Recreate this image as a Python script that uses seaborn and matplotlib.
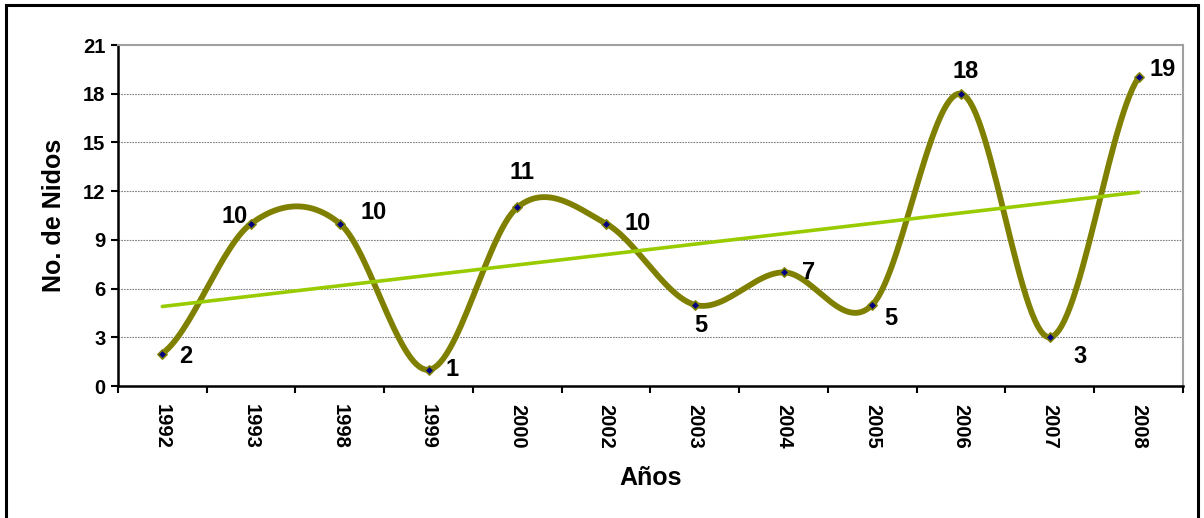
import numpy as np
import pandas as pd
import seaborn as sns
from matplotlib import pyplot as plt
from matplotlib.patches import Rectangle

years = ["1992", "1993", "1998", "1999", "2000", "2002",
         "2003", "2004", "2005", "2006", "2007", "2008"]
nests = [2, 10, 10, 1, 11, 10, 5, 7, 5, 18, 3, 19]

# label offsets (points) from each point, Excel-style placement
label_offsets = [(17, -2), (-12, 5), (24, 8), (17, 0), (3, 25), (23, 0),
                 (4, -15), (18, 0), (13, -10), (3, 16), (22, -14), (17, 6)]


def smooth(y, n=30):
    # Excel-like smoothing: Catmull-Rom / bezier through every point
    y = np.asarray(y, dtype=float)
    xs, ys = [], []
    for i in range(len(y) - 1):
        p0 = y[i - 1] if i > 0 else y[i]
        p3 = y[i + 2] if i + 2 < len(y) else y[i + 1]
        m0 = (y[i + 1] - p0) / 2
        m1 = (p3 - y[i]) / 2
        t = np.linspace(0, 1, n, endpoint=False)
        h00 = 2 * t**3 - 3 * t**2 + 1
        h10 = t**3 - 2 * t**2 + t
        h01 = -2 * t**3 + 3 * t**2
        h11 = t**3 - t**2
        xs.append(i + t)
        ys.append(h00 * y[i] + h10 * m0 + h01 * y[i + 1] + h11 * m1)
    xs.append([len(y) - 1])
    ys.append([y[-1]])
    return np.concatenate(xs), np.concatenate(ys)


sns.set_style("white")
plt.rcParams['font.family'] = ['Liberation Sans', 'DejaVu Sans']
plt.rcParams['font.weight'] = 'bold'
plt.rcParams['text.color'] = 'black'
plt.rcParams['axes.labelcolor'] = 'black'
plt.rcParams['xtick.color'] = 'black'
plt.rcParams['ytick.color'] = 'black'

df = pd.DataFrame({"idx": np.arange(len(years)), "nests": nests})
sx, sy = smooth(nests)
curve = pd.DataFrame({"x": sx, "y": sy})

fig = plt.figure(figsize=(12.04, 5.18), dpi=100)
ax = fig.add_axes([0.098, 0.2548, 0.8845, 0.6583])

for yv in range(3, 21, 3):
    ax.axhline(yv, color="#808080", lw=0.8, ls=(0, (1.5, 1)), zorder=0)

sns.lineplot(data=curve, x="x", y="y", color="#808000", lw=4.2, ax=ax,
             zorder=3, sort=False)
sns.regplot(data=df, x="idx", y="nests", scatter=False, ci=None, ax=ax,
            line_kws=dict(color="#99CC00", lw=2.6, zorder=4))
sns.scatterplot(data=df, x="idx", y="nests", marker="D", s=22,
                color="#000080", edgecolor="#808000", linewidth=1.2,
                ax=ax, zorder=5)

for i, v in enumerate(nests):
    ax.annotate(str(v), (i, v), xytext=label_offsets[i],
                textcoords="offset points", ha="center", va="center",
                fontsize=17, fontweight="bold", color="black")

ax.set_xlim(-0.5, len(years) - 0.5)
ax.set_ylim(0, 21)
ax.set_yticks(range(0, 22, 3))
ax.set_xticks(np.arange(len(years) + 1) - 0.5)
ax.set_xticklabels([])
ax.set_xticks(np.arange(len(years)), minor=True)
ax.set_xticklabels(years, minor=True, rotation=-90, fontsize=14.5,
                   fontweight="bold")
ax.tick_params(axis="x", which="major", length=5, width=1.5, color="black",
               direction="out", bottom=True)
ax.tick_params(axis="x", which="minor", length=0, pad=13)
ax.tick_params(axis="y", length=5, width=1.5, color="black", direction="out",
               left=True, labelsize=14.5, pad=4)
for lab in ax.get_yticklabels():
    lab.set_fontweight("bold")

for side in ["left", "bottom"]:
    ax.spines[side].set_color("black")
    ax.spines[side].set_linewidth(1.8)
for side in ["top", "right"]:
    ax.spines[side].set_color("#A0A0A0")
    ax.spines[side].set_linewidth(1.5)

ax.set_xlabel("Años", fontsize=18, fontweight="bold", labelpad=12)
ax.set_ylabel("No. de Nidos", fontsize=18, fontweight="bold", labelpad=12)

fig.patches.append(Rectangle((6 / 1204, -0.05), 1192 / 1204, 1 - 5 / 518 + 0.05,
                             transform=fig.transFigure, fill=False,
                             edgecolor="black", lw=2.2))

fig.savefig("out.png", dpi=100)
